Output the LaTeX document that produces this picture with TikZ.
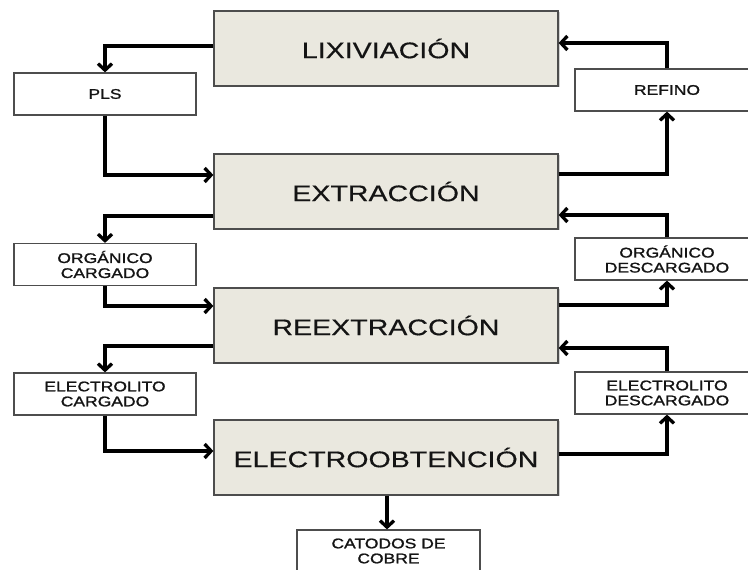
\documentclass[tikz,border=0pt]{standalone}
\usepackage{fontspec}
\usepackage{xcolor}
\usepackage{tikz}
\newfontfamily\boxfont{Liberation Sans}[FakeStretch=1.27, FakeBold=0.5]
\newfontfamily\flujofont{Liberation Sans}[FakeStretch=1.25, FakeBold=1.3]
\definecolor{etapa}{HTML}{EAE8DF}
\definecolor{borde}{HTML}{4D4D4D}
\definecolor{texto}{HTML}{141414}
\usetikzlibrary{positioning, arrows.meta, shadows}

\tikzset{
    etapabox/.style={draw=borde, line width=1.3pt, fill=etapa, minimum width=344pt, minimum height=75pt,
        inner sep=0pt, text=texto, font=\boxfont\fontsize{22.5}{26}\selectfont,
        drop shadow={shadow xshift=1.5pt, shadow yshift=-1.5pt, opacity=0.35}},
    flujobox/.style={draw=borde, line width=1.2pt, fill=white, minimum width=182pt, minimum height=42pt,
        inner sep=0pt, align=center, text=texto, font=\flujofont\fontsize{14}{15}\selectfont},
    flujo/.style={line width=3.3pt, -{Straight Barb[length=6.5pt,width=14pt]}}
}

\begin{document}
\begin{tikzpicture}[x=1pt, y=1pt]
        \useasboundingbox (0,0) rectangle (748,570);
        \clip (0,0) rectangle (748,570);

        % draw stages
        \node[etapabox] (lix) at (386,521.5) {LIXIVIACIÓN};
        \node[etapabox] (ext) at (386,378.5) {EXTRACCIÓN};
        \node[etapabox] (reext) at (386,244.5) {REEXTRACCIÓN};
        \node[etapabox] (eo) at (386,112.5) {ELECTROOBTENCIÓN};

        % draw streams
        \node[flujobox] (pls) at (105,476) {PLS};
        \node[flujobox] (orgc) at (105,305.5) {ORGÁNICO\\CARGADO};
        \node[flujobox] (elc) at (105,176) {ELECTROLITO\\CARGADO};
        \node[flujobox, minimum width=184pt] (refino) at (667,480) {REFINO};
        \node[flujobox, minimum width=184pt] (orgd) at (667,311) {ORGÁNICO\\DESCARGADO};
        \node[flujobox, minimum width=184pt] (eld) at (667,177) {ELECTROLITO\\DESCARGADO};
        \node[flujobox, minimum width=183pt] (cat) at (388.5,19) {CATODOS DE\\COBRE};

        % left side
        \draw[flujo] ([yshift=2.5pt]lix.west) -| (pls.north);
        \draw[flujo] (pls.south) |- ([yshift=16.5pt]ext.west);
        \draw[flujo] ([yshift=-24.5pt]ext.west) -| (orgc.north);
        \draw[flujo] (orgc.south) |- ([yshift=19.5pt]reext.west);
        \draw[flujo] ([yshift=-20.5pt]reext.west) -| (elc.north);
        \draw[flujo] (elc.south) |- ([yshift=6.5pt]eo.west);
        \draw[flujo] ([xshift=1pt]eo.south) -- ([xshift=1pt]eo.south |- cat.north);

        % right side
        \draw[flujo] ([yshift=17.5pt]ext.east) -| (refino.south);
        \draw[flujo] (refino.north) |- ([yshift=5.5pt]lix.east);
        \draw[flujo] (orgd.north) |- ([yshift=-23.5pt]ext.east);
        \draw[flujo] ([yshift=20.5pt]reext.east) -| (orgd.south);
        \draw[flujo] (eld.north) |- ([yshift=-22.5pt]reext.east);
        \draw[flujo] ([yshift=3.5pt]eo.east) -| (eld.south);
    \end{tikzpicture}
\end{document}
